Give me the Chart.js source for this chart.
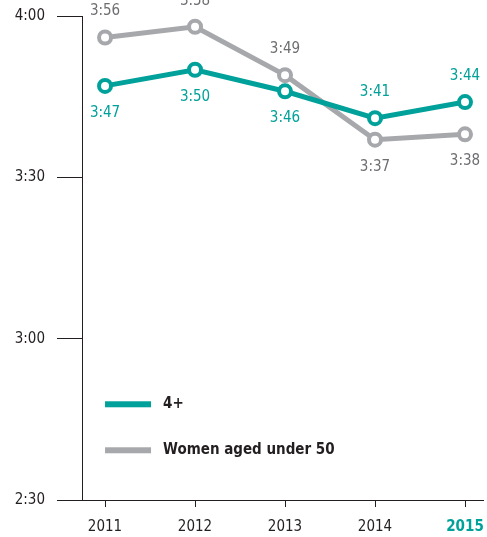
<!DOCTYPE html>
<html>
<head>
<meta charset="utf-8">
<script src="https://cdn.jsdelivr.net/npm/chart.js@4/dist/chart.umd.min.js"></script>
<style>
  html, body { margin: 0; padding: 0; background: #fff; }
  #wrap { width: 487px; height: 537px; position: relative; }
</style>
</head>
<body>
<div id="wrap"><canvas id="c" width="487" height="537"></canvas></div>
<script>
// Years on the x axis
const years = [2011, 2012, 2013, 2014, 2015];
// Average daily viewing time, in minutes (h:mm)
const seriesNames = ['4+', 'Women aged under 50'];
const fourPlus = [227, 230, 226, 221, 224];        // 3:47 3:50 3:46 3:41 3:44
const womenUnder50 = [236, 238, 229, 217, 218];    // 3:56 3:58 3:49 3:37 3:38
// Y axis ticks, minutes
const yTicks = [150, 180, 210, 240];

const TEAL = '#00A19A';
const GREY = '#A7A8AC';
const INK = '#231F20';
const FONT = "'Liberation Sans Narrow', 'DejaVu Sans Condensed', 'Roboto Condensed', sans-serif";

function hmm(m) {
  const h = Math.floor(m / 60);
  const mm = Math.round(m - h * 60);
  return h + ':' + String(mm).padStart(2, '0');
}

// Value labels: the higher series at each year gets its label above, the lower below
const valueLabels = {
  id: 'valueLabels',
  afterDatasetsDraw(chart) {
    const ctx = chart.ctx;
    const ds = chart.data.datasets;
    ctx.save();
    ctx.font = '15px ' + FONT;
    ctx.textAlign = 'center';
    ctx.textBaseline = 'middle';
    ds.forEach((d, di) => {
      const meta = chart.getDatasetMeta(di);
      meta.data.forEach((pt, i) => {
        const v = d.data[i].y;
        const others = ds.filter((_, k) => k !== di).map(o => o.data[i].y);
        const above = others.every(o => v >= o);
        ctx.fillStyle = d.labelColor;
        ctx.fillText(hmm(v), pt.x, pt.y + (above ? -26 : 27));
      });
    });
    ctx.restore();
  }
};

// Legend drawn inside the plot area, lower left
const innerLegend = {
  id: 'innerLegend',
  afterDraw(chart) {
    const ctx = chart.ctx;
    const x0 = chart.scales.x.getPixelForValue(years[0]);
    const yStart = chart.scales.y.getPixelForValue(167.8);
    ctx.save();
    chart.data.datasets.forEach((d, i) => {
      const y = yStart + i * 46;
      ctx.fillStyle = d.borderColor;
      ctx.fillRect(x0, y - 3, 46, 6);
      ctx.fillStyle = INK;
      ctx.font = 'bold 15px ' + FONT;
      ctx.textAlign = 'left';
      ctx.textBaseline = 'middle';
      ctx.fillText(d.label, x0 + 58, y);
    });
    ctx.restore();
  }
};

function series(values) {
  return values.map((v, i) => ({ x: years[i], y: v }));
}

new Chart(document.getElementById('c'), {
  type: 'line',
  data: {
    datasets: [
      {
        label: seriesNames[0],
        data: series(fourPlus),
        borderColor: TEAL,
        labelColor: TEAL,
        order: 0
      },
      {
        label: seriesNames[1],
        data: series(womenUnder50),
        borderColor: GREY,
        labelColor: '#6D6E71',
        order: 1
      }
    ].map(d => Object.assign(d, {
      borderWidth: 5,
      pointRadius: 6,
      pointHoverRadius: 6,
      pointBorderWidth: 4,
      pointBackgroundColor: '#fff',
      pointBorderColor: d.borderColor,
      tension: 0,
      clip: false
    }))
  },
  options: {
    responsive: false,
    animation: false,
    events: [],
    layout: { autoPadding: false, padding: { top: 16, right: 4, left: 0, bottom: 0 } },
    plugins: { legend: { display: false }, tooltip: { enabled: false } },
    scales: {
      x: {
        type: 'linear',
        min: 2010.744,
        max: 2015.2,
        afterBuildTicks(scale) { scale.ticks = years.map(v => ({ value: v })); },
        afterFit(scale) {
          scale.height = 37;
          scale.paddingLeft = 0;
          scale.paddingRight = 0;
        },
        border: { display: true, color: INK, width: 1 },
        grid: { drawOnChartArea: false, drawTicks: true, tickLength: 7, color: INK },
        ticks: {
          padding: 11,
          callback: v => String(v),
          color: c => (c.tick && c.tick.value === years[years.length - 1]) ? TEAL : INK,
          font: c => ({
            family: FONT,
            size: 15,
            weight: (c.tick && c.tick.value === years[years.length - 1]) ? 'bold' : 'normal'
          })
        }
      },
      y: {
        min: yTicks[0],
        max: yTicks[yTicks.length - 1],
        afterBuildTicks(scale) { scale.ticks = yTicks.map(v => ({ value: v })); },
        afterFit(scale) {
          scale.width = 82;
          scale.paddingTop = 0;
          scale.paddingBottom = 0;
        },
        border: { display: true, color: INK, width: 1 },
        grid: { drawOnChartArea: false, drawTicks: true, tickLength: 25, color: INK },
        ticks: {
          padding: 12,
          color: INK,
          font: { family: FONT, size: 15 },
          callback: v => hmm(v)
        }
      }
    }
  },
  plugins: [valueLabels, innerLegend]
});
</script>
</body>
</html>
